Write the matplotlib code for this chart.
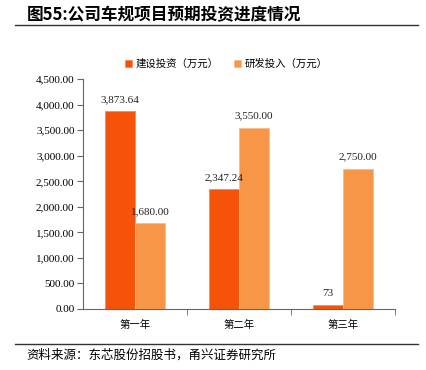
import matplotlib.pyplot as plt
from matplotlib.ticker import FuncFormatter
import numpy as np

plt.rcParams['font.family'] = ['Liberation Serif', 'Noto Sans CJK SC']

categories = ['第一年', '第二年', '第三年']
build = [3873.64, 2347.24, 73]
rnd = [1680.00, 3550.00, 2750.00]
build_labels = ['3,873.64', '2,347.24', '73']
rnd_labels = ['1,680.00', '3,550.00', '2,750.00']
series_names = ['建设投资（万元）', '研发投入（万元）']

c_dark = '#F5520A'
c_light = '#F79646'

fig = plt.figure(figsize=(4.27, 3.70), dpi=100)
ax = fig.add_axes([0.194, 0.165, 0.731, 0.621])

x = np.arange(len(categories))
w = 0.29
b1 = ax.bar(x - w / 2, build, w, color=c_dark, edgecolor='#F98A5A', linewidth=0.6, label=series_names[0])
b2 = ax.bar(x + w / 2, rnd, w, color=c_light, edgecolor='#FAB98A', linewidth=0.6, label=series_names[1])

for bars, labs in ((b1, build_labels), (b2, rnd_labels)):
    for r, t in zip(bars, labs):
        ax.annotate(t, (r.get_x() + r.get_width() / 2, r.get_height()),
                    xytext=(0, 5), textcoords='offset points',
                    ha='center', va='bottom', fontsize=8, color='#222222')

ax.set_ylim(0, 4500)
ax.set_xlim(-0.5, 2.5)
ax.set_yticks(np.arange(0, 4501, 500))
ax.yaxis.set_major_formatter(FuncFormatter(lambda v, p: f'{v:,.2f}'))
ax.set_xticks(x)
ax.set_xticklabels(categories, fontsize=7.5, family='Noto Sans CJK SC')
ax.set_xticks([0.5, 1.5, 2.5], minor=True)
ax.tick_params(axis='x', which='major', length=0, pad=8)
ax.tick_params(axis='x', which='minor', length=4, color='#666666')
ax.tick_params(axis='y', labelsize=8, length=4, color='#666666', pad=2)

for s in ('top', 'right'):
    ax.spines[s].set_visible(False)
for s in ('left', 'bottom'):
    ax.spines[s].set_color('#666666')
    ax.spines[s].set_linewidth(0.8)

leg = fig.legend(loc='center', bbox_to_anchor=(0.53, 0.827), ncol=2, frameon=False,
                 prop={'family': 'Noto Sans CJK SC', 'size': 7.5},
                 handlelength=0.7, handleheight=0.7, handletextpad=0.3, columnspacing=1.5)

fig.text(0.063, 0.958, '图55:公司车规项目预期投资进度情况', fontsize=12, fontweight='bold',
         family='Noto Sans CJK SC', va='center', ha='left')
fig.add_artist(plt.Line2D([0.035, 0.98], [0.932, 0.932], color='#333333', linewidth=1.0))
fig.add_artist(plt.Line2D([0.035, 0.98], [0.070, 0.070], color='#333333', linewidth=1.0))
fig.text(0.063, 0.040, '资料来源：东芯股份招股书，甬兴证券研究所', fontsize=9, style='italic',
         family='Noto Sans CJK SC', va='center', ha='left')

fig.savefig('out.png', dpi=100)
